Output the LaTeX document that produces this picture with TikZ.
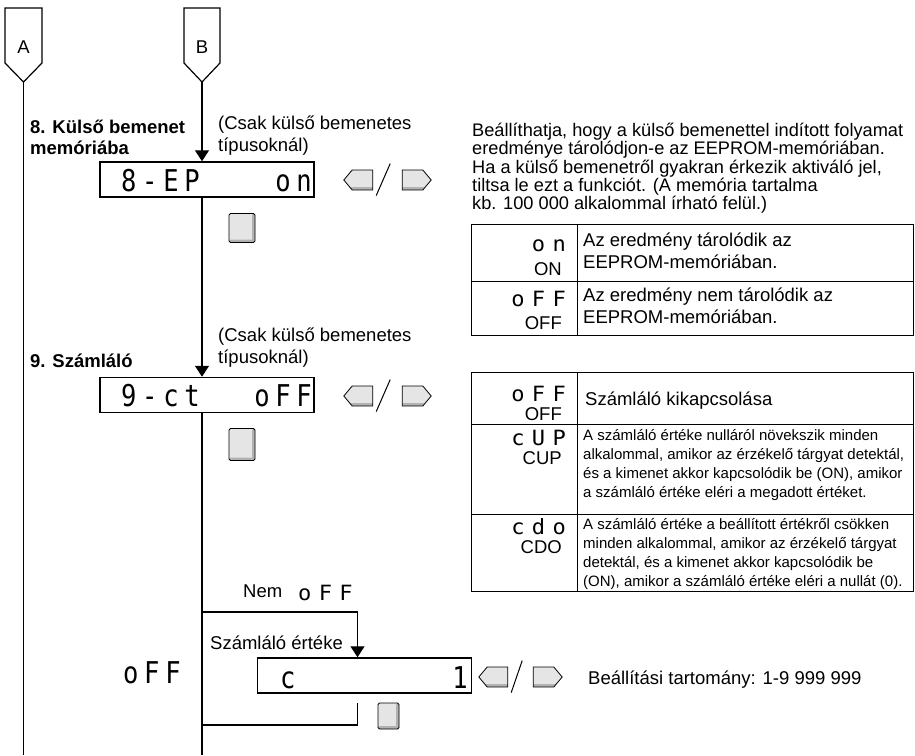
\documentclass[tikz,border=0pt]{standalone}
\usepackage{fontspec}
\setmainfont{Liberation Sans}
\newfontfamily\segfont[FakeStretch=0.85, LetterSpace=19]{DejaVu Sans Mono}
\newfontfamily\tsegfont[FakeStretch=1.05, LetterSpace=35]{DejaVu Sans Mono}
\usetikzlibrary{arrows.meta, positioning, shapes.symbols}

\begin{document}
\begin{tikzpicture}[
    x=1pt, y=-1pt,
    every node/.style={inner sep=0pt, font=\fontsize{18.5}{22}\selectfont},
    flow/.style={line width=1.3pt},
    flow arrow/.style={flow, -{Triangle[length=11pt, width=14pt]}},
    flag/.style={line width=1.2pt},
    display/.style={draw, line width=1.5pt, minimum width=214pt, minimum height=35pt},
    seg/.style={font=\segfont\fontsize{30}{30}\selectfont},
    small seg/.style={font=\tsegfont\fontsize{21}{21}\selectfont},
    heading/.style={align=left, font=\fontsize{18.5}{20.5}\selectfont\bfseries},
    note/.style={align=left, font=\fontsize{18.5}{22}\selectfont},
    tight note/.style={align=left, font={\fontsize{18.2}{18.3}\selectfont\lineskiplimit-100pt}},
    small text/.style={align=left, font=\fontsize{15}{19.2}\selectfont},
    cell/.style={draw, line width=0.9pt, anchor=north west},
    nav key/.style={shape=signal, draw, fill=gray!20, line width=0.8pt,
        minimum width=29pt, minimum height=20pt, signal pointer angle=100,
        path picture={\fill[gray!60] (path picture bounding box.south west)
            rectangle ([yshift=3pt]path picture bounding box.south east);}},
    set key/.style={draw, fill=gray!20, line width=0.8pt, rounded corners=1.5pt,
        minimum width=26pt, minimum height=29pt,
        path picture={\fill[gray!60] ([xshift=-3pt]path picture bounding box.north east)
            rectangle (path picture bounding box.south east);
            \fill[gray!60] (path picture bounding box.south west)
            rectangle ([yshift=3pt]path picture bounding box.south east);}}
]
\useasboundingbox (0,0) rectangle (915,755);

% Flags
\draw[flag] (5,8) -- (42,8) -- (42,63) -- (23.5,82) -- (5,63) -- cycle;
\draw[flag] (184,8) -- (220,8) -- (220,63) -- (202,82) -- (184,63) -- cycle;
\node (flagA) at (23.5,47) {A};
\node (flagB) at (202,47) {B};
\coordinate (tipA) at (23.5,82);
\coordinate (endA) at (23.5,755);
\coordinate (tipB) at (202,82);
\coordinate (endB) at (202,755);

% 8. Kulso bemenet memoriaba
\node[heading, anchor=north west] (head8) at (30,120) {8. Külső bemenet\\memóriába};
\node[note, anchor=north west] (only8) at (218,116) {(Csak külső bemenetes\\típusoknál)};
\node[display] (disp8) at (207,179.5) {};
\node[seg, anchor=base west] (seg8a) at (121,191) {8-EP};
\node[seg, anchor=base east] (seg8b) at (312,191) {on};
\node[nav key, signal to=west] (left8) at (362.5,180) {};
\node[nav key, signal to=east] (right8) at (412.5,180) {};
\node[set key] (ok8) at (242,228) {};

% 9. Szamlalo
\node[heading, anchor=north west] (head9) at (30,354) {9. Számláló};
\node[note, anchor=north west] (only9) at (218,328) {(Csak külső bemenetes\\típusoknál)};
\node[display] (disp9) at (207,395) {};
\node[seg, anchor=base west] (seg9a) at (121,406) {9-ct};
\node[seg, anchor=base east] (seg9b) at (312,406) {oFF};
\node[nav key, signal to=west] (left9) at (362.5,396) {};
\node[nav key, signal to=east] (right9) at (412.5,396) {};
\node[set key, minimum height=32pt] (ok9) at (242,444.5) {};

% Description of the memory setting
\node[tight note, anchor=north west] (memtext) at (472,123) {Beállíthatja, hogy a külső bemenettel indított folyamat\\
    eredménye tárolódjon-e az EEPROM-memóriában.\\
    Ha a külső bemenetről gyakran érkezik aktiváló jel,\\
    tiltsa le ezt a funkciót. (A memória tartalma\\
    kb. 100 000 alkalommal írható felül.)};

% Table of the memory setting
\node[cell, minimum width=106pt, minimum height=57pt] (memk1) at (471,224) {};
\node[cell, minimum width=336pt, minimum height=57pt] (memv1) at (577,224) {};
\node[cell, minimum width=106pt, minimum height=54pt] (memk2) at (471,281) {};
\node[cell, minimum width=336pt, minimum height=54pt] (memv2) at (577,281) {};
\node[small seg, anchor=base east] (memon) at (566,251) {on};
\node[anchor=base east] (memON) at (562,275) {ON};
\node[note, anchor=north west] (memont) at (583,233) {Az eredmény tárolódik az\\EEPROM-memóriában.};
\node[small seg, anchor=base east] (memoff) at (566,306) {oFF};
\node[anchor=base east] (memOFF) at (562,329) {OFF};
\node[note, anchor=north west] (memofft) at (583,288) {Az eredmény nem tárolódik az\\EEPROM-memóriában.};

% Table of the counter setting
\node[cell, minimum width=106pt, minimum height=52pt] (ctk1) at (471,372) {};
\node[cell, minimum width=336pt, minimum height=52pt] (ctv1) at (577,372) {};
\node[cell, minimum width=106pt, minimum height=90pt] (ctk2) at (471,424) {};
\node[cell, minimum width=336pt, minimum height=90pt] (ctv2) at (577,424) {};
\node[cell, minimum width=106pt, minimum height=77pt] (ctk3) at (471,514) {};
\node[cell, minimum width=336pt, minimum height=77pt] (ctv3) at (577,514) {};
\node[small seg, anchor=base east] (ctoff) at (566,401) {oFF};
\node[anchor=base east] (ctOFF) at (562,420) {OFF};
\node[anchor=base west] (ctofft) at (585,405) {Számláló kikapcsolása};
\node[small seg, anchor=base east] (ctup) at (566,445) {cUP};
\node[anchor=base east] (ctUP) at (562,464) {CUP};
\node[small text, anchor=north west] (ctupt) at (583,429) {A számláló értéke nulláról növekszik minden\\
    alkalommal, amikor az érzékelő tárgyat detektál,\\
    és a kimenet akkor kapcsolódik be (ON), amikor\\
    a számláló értéke eléri a megadott értéket.};
\node[small seg, anchor=base east] (ctdo) at (566,534) {cdo};
\node[anchor=base east] (ctDO) at (562,553) {CDO};
\node[small text, anchor=north west] (ctdot) at (583,518) {A számláló értéke a beállított értékről csökken\\
    minden alkalommal, amikor az érzékelő tárgyat\\
    detektál, és a kimenet akkor kapcsolódik be\\
    (ON), amikor a számláló értéke eléri a nullát (0).};

% Counter value
\node[anchor=base west] (nem) at (243,597) {Nem};
\node[small seg, anchor=base west] (nemoff) at (298,600) {oFF};
\node[anchor=base west] (ctval) at (210,649) {Számláló értéke};
\node[seg, anchor=base west] (offleft) at (123,683) {oFF};
\node[display] (disp10) at (364.5,675.5) {};
\node[seg, anchor=base west] (seg10a) at (280,688) {c};
\node[seg, anchor=base east] (seg10b) at (468,688) {1};
\node[nav key, signal to=west] (left10) at (497.5,677) {};
\node[nav key, signal to=east] (right10) at (543.5,677) {};
\node[anchor=base west] (range) at (588,684) {Beállítási tartomány: 1-9 999 999};
\node[set key, minimum width=21pt, minimum height=26pt] (ok10) at (388.5,716) {};
\coordinate (split) at (202,612);
\coordinate (splitr) at (357.5,612);
\coordinate (back) at (357.5,703);
\coordinate (backr) at (357.5,725);
\coordinate (join) at (202,725);

% Edges
\draw[flow] (tipA) -- (endA);
\draw[flow arrow] (tipB) -- (tipB |- disp8.north);
\draw[flow arrow] (tipB |- disp8.south) -- (tipB |- disp9.north);
\draw[flow] (tipB |- disp9.south) -- (endB);
\draw[flow arrow] (split) -- (splitr) -- (splitr |- disp10.north);
\draw[flow] (back) -- (backr) -- (join);

% Slashes between the keys
\draw[line width=1pt] ([xshift=3pt, yshift=-6pt]left8.south east) -- ([xshift=17pt, yshift=6pt]left8.north east);
\draw[line width=1pt] ([xshift=3pt, yshift=-6pt]left9.south east) -- ([xshift=17pt, yshift=6pt]left9.north east);
\draw[line width=1pt] ([xshift=3pt, yshift=-6pt]left10.south east) -- ([xshift=14pt, yshift=6pt]left10.north east);

\end{tikzpicture}
\end{document}
